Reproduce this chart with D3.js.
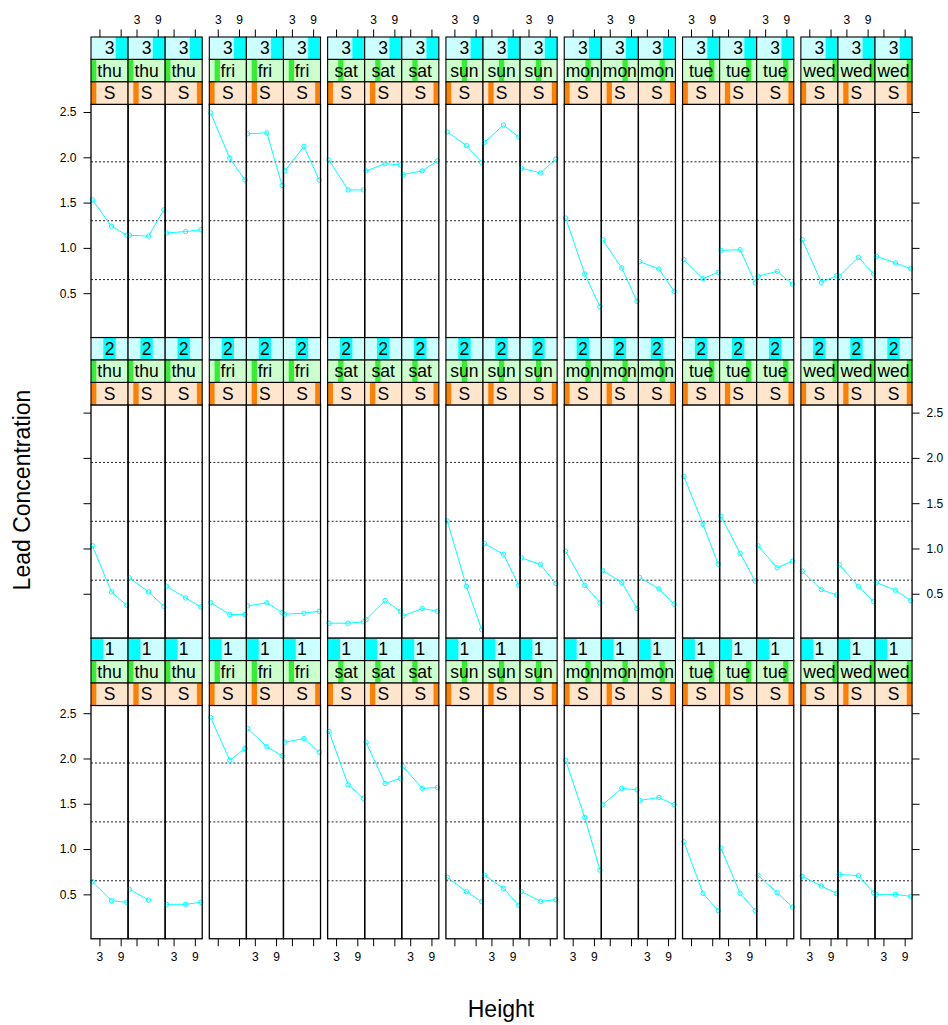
<!DOCTYPE html>
<html>
<head>
<meta charset="utf-8">
<script src="https://cdn.jsdelivr.net/npm/d3@7/dist/d3.min.js"></script>
<style>
  html, body { margin: 0; padding: 0; background: #fff; }
  svg text { font-family: "Liberation Sans", Arial, Helvetica, sans-serif; }
</style>
</head>
<body>
<svg id="chart" width="948" height="1025"></svg>
<script>
// Conditioning factors
const days = ["thu", "fri", "sat", "sun", "mon", "tue", "wed"];
const rowLevels = ["3", "2", "1"];          // rows, top to bottom
const rowLevelCount = 3;
const siteLabel = "S";
const siteLevelIndex = [1, 2, 7];           // level of S shown in each of the 3 panels of a day
const siteLevelCount = 7;

// x values (Height) shared by every panel, and axis ticks
const heights = [1, 6.4, 10.7];
const xTicks = [3, 9];
const yTicks = [0.5, 1.0, 1.5, 2.0, 2.5];
const refLines = [0.65, 1.30, 1.95];

// Lead concentration, one triple per panel: thu x3, fri x3, ... wed x3
const leadRow3 = [
  [1.53, 1.24, 1.14], [1.14, 1.13, 1.42], [1.165, 1.18, 1.20],
  [2.49, 1.99, 1.75], [2.26, 2.27, 1.69], [1.85, 2.12, 1.75],
  [1.97, 1.64, 1.64], [1.85, 1.93, 1.915], [1.81, 1.85, 1.96],
  [2.28, 2.13, 1.944], [2.164, 2.356, 2.224], [1.88, 1.827, 1.98],
  [1.33, 0.712, 0.351], [1.09, 0.778, 0.41], [0.848, 0.767, 0.52],
  [0.87, 0.66, 0.73], [0.973, 0.98, 0.613], [0.686, 0.741, 0.60],
  [1.09, 0.62, 0.693], [0.686, 0.896, 0.712], [0.907, 0.833, 0.77]
];
const leadRow2 = [
  [1.03, 0.52, 0.373], [0.675, 0.52, 0.362], [0.583, 0.454, 0.355],
  [0.403, 0.27, 0.27], [0.366, 0.40, 0.292], [0.274, 0.285, 0.307],
  [0.175, 0.175, 0.19], [0.215, 0.425, 0.307], [0.256, 0.337, 0.307],
  [1.304, 0.583, 0.105], [1.054, 0.936, 0.594], [0.896, 0.822, 0.613],
  [0.97, 0.594, 0.40], [0.756, 0.624, 0.337], [0.679, 0.554, 0.385],
  [1.797, 1.267, 0.826], [1.356, 0.947, 0.638], [1.03, 0.786, 0.86],
  [0.749, 0.546, 0.487], [0.819, 0.583, 0.414], [0.624, 0.539, 0.425]
];
const leadRow1 = [
  [0.64, 0.43, 0.412], [0.555, 0.437, null], [0.39, 0.39, 0.412],
  [2.452, 1.98, 2.11], [2.33, 2.13, 2.03], [2.18, 2.22, 2.07],
  [2.30, 1.71, 1.56], [2.18, 1.724, 1.78], [1.908, 1.67, 1.68],
  [0.688, 0.53, 0.419], [0.713, 0.566, 0.379], [0.53, 0.423, 0.441],
  [1.98, 1.35, 0.768], [1.49, 1.67, 1.654], [1.537, 1.57, 1.49],
  [1.08, 0.511, 0.32], [1.01, 0.511, 0.32], [0.71, 0.518, 0.36],
  [0.699, 0.592, 0.511], [0.72, 0.706, 0.518], [0.50, 0.50, 0.478]
];
const rowsData = [leadRow3, leadRow2, leadRow1];

// ---- layout ----
const W = 948, H = 1025;
const left = 91, panelW = 37.07, groupGap = 7.1;
const top0 = 37, stripH = 22.43, panelH = 233.3;
const rowH = 3 * stripH + panelH;
const tickLen = 7.5;

const strips = [
  { bg: "#ccffff", shade: "#00ffff" },  // row level
  { bg: "#ccffcc", shade: "#33ee33" },  // day
  { bg: "#ffe5cc", shade: "#ff7f00" }   // S
];

const svg = d3.select("#chart");
svg.append("rect").attr("width", W).attr("height", H).attr("fill", "#fff");

// common scales domains: data extent plus 4% padding
const allVals = rowsData.flat(2).filter(v => v != null);
const yExt = d3.extent(allVals);
const yPad = (yExt[1] - yExt[0]) * 0.04;
const yDomain = [yExt[0] - yPad, yExt[1] + yPad];
const xExt = d3.extent(heights);
const xPad = (xExt[1] - xExt[0]) * 0.04;
const xDomain = [xExt[0] - xPad, xExt[1] + xPad];

const panelX = (col) => left + Math.floor(col / 3) * (3 * panelW + groupGap) + (col % 3) * panelW;

const defs = svg.append("defs");
let clipId = 0;

rowsData.forEach((rowVals, r) => {
  const stripTop = top0 + r * rowH;
  const pTop = stripTop + 3 * stripH;
  const pBot = pTop + panelH;
  const y = d3.scaleLinear().domain(yDomain).range([pBot, pTop]);

  rowVals.forEach((vals, col) => {
    const px = panelX(col);
    const x = d3.scaleLinear().domain(xDomain).range([px, px + panelW]);
    const g = svg.append("g");

    // reference lines
    g.selectAll("line.ref").data(refLines).join("line")
      .attr("x1", px).attr("x2", px + panelW)
      .attr("y1", d => y(d)).attr("y2", d => y(d))
      .attr("stroke", "#222").attr("stroke-width", 1)
      .attr("stroke-dasharray", "2,2");

    // series
    const pts = vals.map((v, i) => ({ h: heights[i], v })).filter(d => d.v != null);
    g.append("path").datum(pts)
      .attr("fill", "none").attr("stroke", "#00ffff").attr("stroke-width", 1)
      .attr("d", d3.line().x(d => x(d.h)).y(d => y(d.v)));
    g.selectAll("circle").data(pts).join("circle")
      .attr("cx", d => x(d.h)).attr("cy", d => y(d.v)).attr("r", 2.2)
      .attr("fill", "none").attr("stroke", "#00ffff").attr("stroke-width", 1);

    // panel border
    g.append("rect").attr("x", px).attr("y", pTop).attr("width", panelW).attr("height", panelH)
      .attr("fill", "none").attr("stroke", "#000").attr("stroke-width", 1.3);

    // strips: row level (top), day, S (bottom)
    const dayIdx = Math.floor(col / 3);
    const stripInfo = [
      { label: rowLevels[r], k: rowLevelCount - r, n: rowLevelCount },
      { label: days[dayIdx], k: dayIdx + 1, n: days.length },
      { label: siteLabel, k: siteLevelIndex[col % 3], n: siteLevelCount }
    ];
    stripInfo.forEach((s, si) => {
      const sy = stripTop + si * stripH;
      const cid = "clip" + (clipId++);
      defs.append("clipPath").attr("id", cid).append("rect")
        .attr("x", px).attr("y", sy).attr("width", panelW).attr("height", stripH);
      const sg = g.append("g").attr("clip-path", `url(#${cid})`);
      const sx = d3.scaleLinear().domain([0, s.n]).range([px, px + panelW]);
      sg.append("rect").attr("x", px).attr("y", sy).attr("width", panelW).attr("height", stripH)
        .attr("fill", strips[si].bg);
      sg.append("rect").attr("x", sx(s.k - 1)).attr("y", sy)
        .attr("width", sx(s.k) - sx(s.k - 1)).attr("height", stripH)
        .attr("fill", strips[si].shade);
      sg.append("text").attr("x", px + panelW / 2).attr("y", sy + stripH / 2 + 6)
        .attr("text-anchor", "middle").attr("font-size", 17.5).attr("fill", "#000")
        .text(s.label);
      g.append("rect").attr("x", px).attr("y", sy).attr("width", panelW).attr("height", stripH)
        .attr("fill", "none").attr("stroke", "#000").attr("stroke-width", 1.1);
    });

    // x axes: ticks on every column, labels alternate top/bottom
    if (r === 0) {
      const ax = d3.axisTop(x).tickValues(xTicks).tickSize(tickLen).tickPadding(6)
        .tickFormat(col % 2 === 1 ? d3.format("d") : () => "");
      const a = svg.append("g").attr("transform", `translate(0,${stripTop})`).call(ax);
      styleAxis(a);
    }
    if (r === rowsData.length - 1) {
      const ax = d3.axisBottom(x).tickValues(xTicks).tickSize(tickLen).tickPadding(6)
        .tickFormat(col % 2 === 0 ? d3.format("d") : () => "");
      const a = svg.append("g").attr("transform", `translate(0,${pBot})`).call(ax);
      styleAxis(a);
    }
  });

  // y axes: ticks on both sides, labels alternate left/right
  const rightEdge = panelX(20) + panelW;
  const axL = d3.axisLeft(y).tickValues(yTicks).tickSize(tickLen).tickPadding(7)
    .tickFormat(r % 2 === 0 ? d3.format(".1f") : () => "");
  styleAxis(svg.append("g").attr("transform", `translate(${left},0)`).call(axL));
  const axR = d3.axisRight(y).tickValues(yTicks).tickSize(tickLen).tickPadding(7)
    .tickFormat(r % 2 === 1 ? d3.format(".1f") : () => "");
  styleAxis(svg.append("g").attr("transform", `translate(${rightEdge},0)`).call(axR));
});

function styleAxis(a) {
  a.select(".domain").remove();
  a.selectAll(".tick line").attr("stroke", "#000").attr("stroke-width", 1);
  a.selectAll(".tick text").attr("font-size", 12).attr("fill", "#000")
    .attr("font-family", "'Liberation Sans', Arial, Helvetica, sans-serif");
}

// axis titles
svg.append("text").attr("x", 501).attr("y", 1016.5).attr("text-anchor", "middle")
  .attr("font-size", 23).attr("fill", "#000").text("Height");
svg.append("text").attr("transform", "translate(30,490) rotate(-90)")
  .attr("text-anchor", "middle").attr("font-size", 23).attr("fill", "#000")
  .text("Lead Concentration");
</script>
</body>
</html>
